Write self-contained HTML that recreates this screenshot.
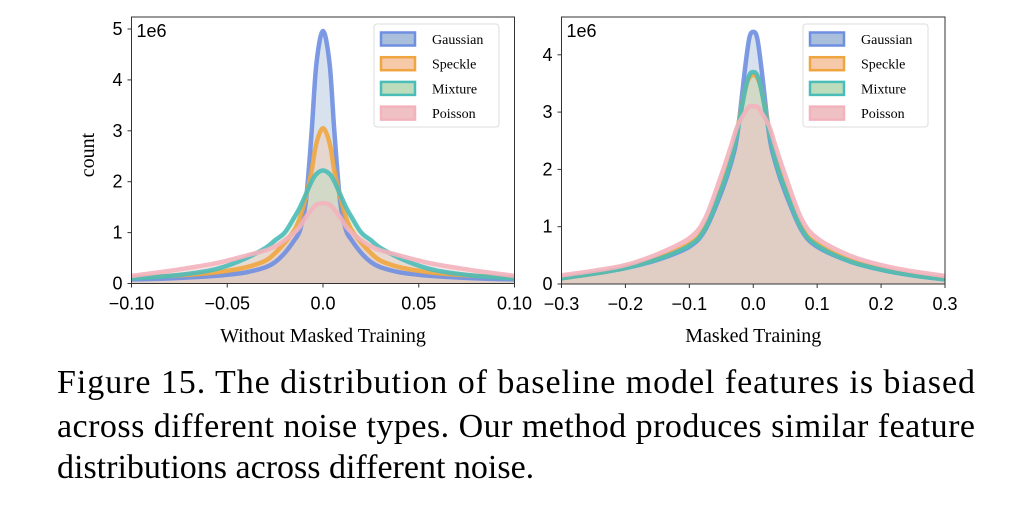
<!DOCTYPE html>
<html><head><meta charset="utf-8"><style>
html,body{margin:0;padding:0;background:#fff;}
svg{display:block;}
.tk{font-family:"Liberation Sans",sans-serif;font-size:18px;fill:#000;}
.sf{font-family:"Liberation Serif",serif;fill:#000;}
</style></head><body>
<svg id="fig" width="1022" height="508" viewBox="0 0 1022 508" xmlns="http://www.w3.org/2000/svg">
<g id="left"></g>
<g id="right"></g>
<g>
<text class="sf" x="57" y="393" font-size="34" textLength="918" lengthAdjust="spacing">Figure 15.  The distribution of baseline model features is biased</text>
<text class="sf" x="57" y="437" font-size="34" textLength="918" lengthAdjust="spacing">across different noise types. Our method produces similar feature</text>
<text class="sf" x="57" y="478" font-size="34">distributions across different noise.</text>
</g>
</svg>
<script>
const seriesNames = ["Gaussian","Speckle","Mixture","Poisson"];
const lineColors = ["#6f8fe0","#f0a640","#4bbdb8","#f3b3bd"];
const fillColors = ["#a9bfdc","#f6c9a8","#bcdcbc","#efc0c4"];
// left panel data
const leftX = [-0.1,-0.08,-0.06,-0.05,-0.04,-0.03,-0.025,-0.02,-0.015,-0.012,-0.009,-0.006,-0.0035,0,0.0035,0.006,0.009,0.012,0.015,0.02,0.025,0.03,0.04,0.05,0.06,0.08,0.1];
const leftGaussian = [0.08,0.1,0.14,0.17,0.22,0.32,0.42,0.6,0.85,1.05,1.6,2.95,4.3,4.96,4.3,2.95,1.6,1.05,0.85,0.6,0.42,0.32,0.22,0.17,0.14,0.1,0.08];
const leftSpeckle = [0.12,0.15,0.2,0.25,0.32,0.45,0.6,0.8,1.05,1.3,1.7,2.2,2.75,3.05,2.75,2.2,1.7,1.3,1.05,0.8,0.6,0.45,0.32,0.25,0.2,0.15,0.12];
const leftMixture = [0.1,0.15,0.25,0.35,0.5,0.7,0.85,1.0,1.3,1.5,1.75,2.0,2.15,2.22,2.15,2.0,1.75,1.5,1.3,1.0,0.85,0.7,0.5,0.35,0.25,0.15,0.1];
const leftPoisson = [0.15,0.25,0.37,0.45,0.55,0.65,0.73,0.85,1.0,1.12,1.3,1.45,1.55,1.58,1.55,1.45,1.3,1.12,1.0,0.85,0.73,0.65,0.55,0.45,0.37,0.25,0.15];
const leftXTicks = [-0.1,-0.05,0,0.05,0.1];
const leftXTickLabels = ["\u22120.10","\u22120.05","0.0","0.05","0.10"];
const leftYTicks = [0,1,2,3,4,5];
// right panel data
const rightX = [-0.3,-0.25,-0.2,-0.15,-0.1,-0.075,-0.05,-0.035,-0.025,-0.0125,-0.006,0,0.006,0.0125,0.025,0.035,0.05,0.075,0.1,0.15,0.2,0.25,0.3];
const rightGaussian = [0.1,0.18,0.28,0.42,0.65,0.95,1.6,2.1,2.6,3.8,4.3,4.4,4.3,3.8,2.6,2.1,1.6,0.95,0.65,0.4,0.25,0.15,0.08];
const rightSpeckle = [0.1,0.18,0.29,0.45,0.7,1.0,1.7,2.2,2.7,3.4,3.6,3.65,3.6,3.4,2.7,2.2,1.7,1.0,0.7,0.42,0.27,0.16,0.09];
const rightMixture = [0.1,0.18,0.28,0.43,0.67,0.97,1.65,2.15,2.65,3.4,3.65,3.7,3.65,3.4,2.65,2.15,1.65,0.97,0.67,0.4,0.25,0.15,0.08];
const rightPoisson = [0.15,0.23,0.33,0.52,0.8,1.15,1.9,2.4,2.75,3.0,3.1,3.1,3.1,3.0,2.75,2.4,1.9,1.15,0.8,0.5,0.33,0.22,0.14];
const rightXTicks = [-0.3,-0.2,-0.1,0,0.1,0.2,0.3];
const rightXTickLabels = ["\u22120.3","\u22120.2","\u22120.1","0.0","0.1","0.2","0.3"];
const rightYTicks = [0,1,2,3,4];

const NS="http://www.w3.org/2000/svg";
function mk(tag,attrs,parent){const e=document.createElementNS(NS,tag);for(const k in attrs)e.setAttribute(k,attrs[k]);parent.appendChild(e);return e;}
function smooth(p){
  let d='M'+p[0][0].toFixed(1)+','+p[0][1].toFixed(1);
  for(let i=0;i<p.length-1;i++){
    const p0=p[Math.max(0,i-1)],p1=p[i],p2=p[i+1],p3=p[Math.min(p.length-1,i+2)];
    const c1=[p1[0]+(p2[0]-p0[0])/6,p1[1]+(p2[1]-p0[1])/6];
    const c2=[p2[0]-(p3[0]-p1[0])/6,p2[1]-(p3[1]-p1[1])/6];
    d+=' C'+c1[0].toFixed(1)+','+c1[1].toFixed(1)+' '+c2[0].toFixed(1)+','+c2[1].toFixed(1)+' '+p2[0].toFixed(1)+','+p2[1].toFixed(1);
  }
  return d;
}
function panel(g,cfg){
  const sx=v=>cfg.x0+(v-cfg.xmin)/(cfg.xmax-cfg.xmin)*(cfg.x1-cfg.x0);
  const sy=v=>cfg.yz-v*cfg.ypu;
  const clip=mk('clipPath',{id:cfg.id+'c'},g);
  mk('rect',{x:cfg.x0,y:cfg.y0,width:cfg.x1-cfg.x0,height:cfg.yz-cfg.y0},clip);
  const inner=mk('g',{'clip-path':'url(#'+cfg.id+'c)'},g);
  
  
  cfg.series.forEach((s,i)=>{
    const pts=cfg.xs.map((x,j)=>[sx(x),sy(s[j])]);
    const d=smooth(pts)+' L'+sx(cfg.xs[cfg.xs.length-1])+','+sy(0)+' L'+sx(cfg.xs[0])+','+sy(0)+'Z';
    const a=mk('path',{d:d,fill:fillColors[i],'fill-opacity':0.45},inner);
    
    
  });
  cfg.series.forEach((s,i)=>{
    const pts=cfg.xs.map((x,j)=>[sx(x),sy(s[j])]);
    const l=mk('path',{d:smooth(pts),fill:'none',stroke:lineColors[i],'stroke-width':4.5,'stroke-opacity':0.9,'stroke-linejoin':'round'},inner);
    
    
  });
  const fr=mk('rect',{x:cfg.x0,y:cfg.y0,width:cfg.x1-cfg.x0,height:cfg.yz-cfg.y0,fill:'none',stroke:'#333','stroke-width':1},g);
  
  
  cfg.xt.forEach((v,i)=>{
    mk('line',{x1:sx(v),x2:sx(v),y1:cfg.yz,y2:cfg.yz+4,stroke:'#333'},g);
    const t=mk('text',{x:sx(v),y:cfg.yz+26,'text-anchor':'middle',class:'tk'},g);
    t.textContent=cfg.xtl[i];
    
    
  });
  cfg.yt.forEach(v=>{
    mk('line',{x1:cfg.x0-4,x2:cfg.x0,y1:sy(v),y2:sy(v),stroke:'#333'},g);
    const t=mk('text',{x:cfg.x0-9,y:sy(v)+6,'text-anchor':'end',class:'tk'},g);
    t.textContent=String(v);
    
    
  });
  const e=mk('text',{x:cfg.x0+5,y:cfg.y0+20,class:'tk','font-size':17},g);
  e.textContent='1e6';
  
  
  const xl=mk('text',{x:(cfg.x0+cfg.x1)/2,y:342,'text-anchor':'middle',class:'sf','font-size':20},g);
  xl.textContent=cfg.xlabel;
  
  
  const lg=mk('g',{},g);
  
  
  mk('rect',{x:cfg.lx,y:24,width:125,height:103,rx:3,fill:'#fff','fill-opacity':0.85,stroke:'#ddd'},lg);
  seriesNames.forEach((n,i)=>{
    const cy=39+i*24.7;
    const ge=mk('g',{},lg);
    
    
    mk('rect',{x:cfg.lx+7,y:cy-6.5,width:34,height:13,fill:fillColors[i],stroke:lineColors[i],'stroke-width':2.5},ge);
    const t=mk('text',{x:cfg.lx+58,y:cy+5,class:'sf','font-size':14},ge);
    t.textContent=n;
  });
}
panel(document.getElementById('left'),{id:'L',x0:131.5,x1:514.5,y0:17,yz:283.5,ypu:50.9,xmin:-0.1,xmax:0.1,xs:leftX,
  series:[leftGaussian,leftSpeckle,leftMixture,leftPoisson],xt:leftXTicks,xtl:leftXTickLabels,yt:leftYTicks,xlabel:'Without Masked Training',lx:374});
panel(document.getElementById('right'),{id:'R',x0:561.5,x1:945,y0:17,yz:284,ypu:57.3,xmin:-0.3,xmax:0.3,xs:rightX,
  series:[rightGaussian,rightSpeckle,rightMixture,rightPoisson],xt:rightXTicks,xtl:rightXTickLabels,yt:rightYTicks,xlabel:'Masked Training',lx:803});
const yl=mk('text',{x:0,y:0,transform:'translate(94,155) rotate(-90)','text-anchor':'middle',class:'sf','font-size':20},document.getElementById('left'));
yl.textContent='count';


</script>
</body></html>
